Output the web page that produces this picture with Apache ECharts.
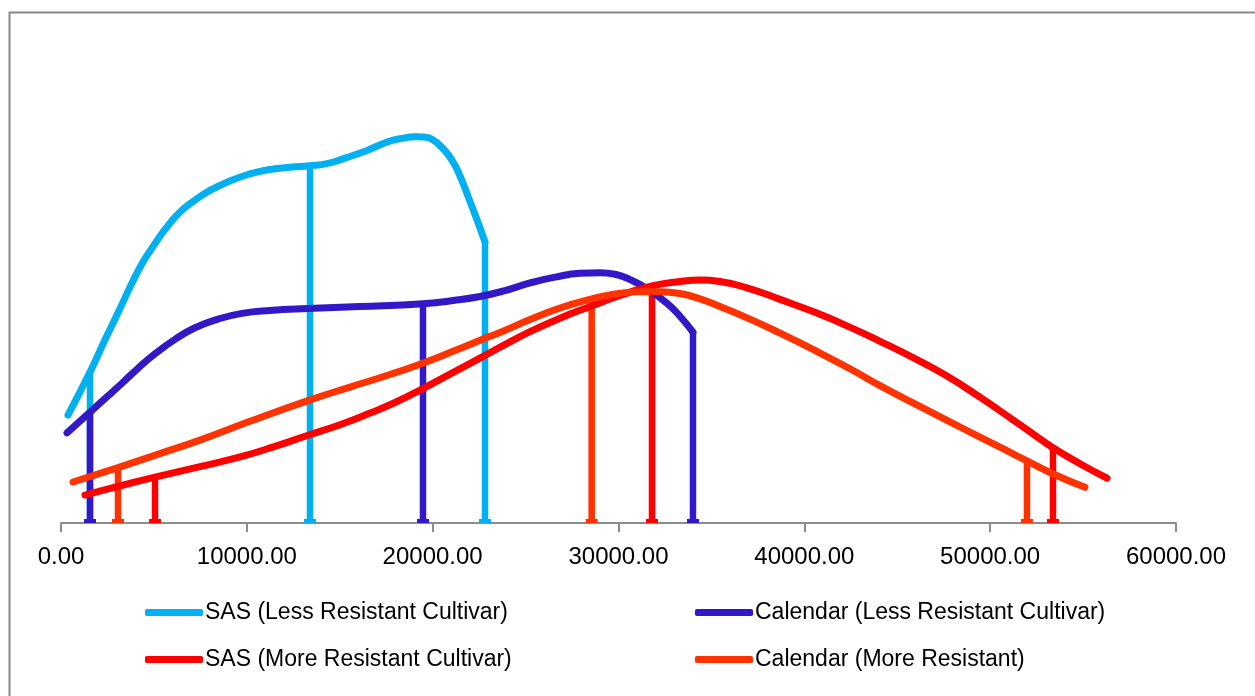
<!DOCTYPE html>
<html>
<head>
<meta charset="utf-8">
<script src="https://cdn.jsdelivr.net/npm/echarts@6/dist/echarts.min.js"></script>
<style>
html,body{margin:0;padding:0;background:#fff;}
#chart{width:1255px;height:696px;}
</style>
</head>
<body>
<div id="chart"></div>
<script>
// Series names
const seriesNames = [
  'SAS (Less Resistant Cultivar)',
  'Calendar (Less Resistant Cultivar)',
  'SAS (More Resistant Cultivar)',
  'Calendar (More Resistant)'
];
const seriesColors = ['#00B0F0', '#3318C8', '#FF0000', '#FF3300'];

// x-axis ticks
const xTicks = [0, 10000, 20000, 30000, 40000, 50000, 60000];

// Curves [x, y] (y in arbitrary density units)
const sasLess = [
  [377, 22.4], [1560, 31.3], [2368, 38.0], [3175, 44.5], [3821, 49.8], [4342, 53.7],
  [4789, 56.4], [5596, 60.9], [6403, 64.5], [7211, 67.0], [8018, 69.0], [8986, 70.8],
  [10062, 72.3], [11139, 73.3], [12322, 73.8], [13399, 74.1], [14367, 74.6], [15282, 75.7],
  [16466, 77.3], [17596, 79.1], [18349, 79.8], [19049, 80.15], [19533, 80.1], [19964, 79.6],
  [20502, 77.9], [21040, 75.3], [21470, 72.0], [21901, 67.8], [22385, 62.9], [22816, 58.3]
];
const calLess = [
  [323, 18.7], [1560, 23.0], [2421, 26.0], [3282, 29.0], [4143, 32.1], [5058, 35.1],
  [6134, 38.1], [7211, 40.5], [8448, 42.3], [9740, 43.5], [11246, 44.1], [13291, 44.5],
  [16089, 44.9], [19479, 45.5], [21201, 46.2], [22546, 47.0], [23784, 48.1], [25237, 49.8],
  [26582, 51.0], [27927, 51.8], [29003, 51.9], [29811, 51.6], [30618, 50.5], [31586, 48.5],
  [32609, 45.6], [33308, 42.9], [34008, 39.6]
];
const sasMore = [
  [1291, 5.8], [3175, 7.7], [5058, 9.5], [7480, 11.7], [9740, 13.8], [11515, 15.9],
  [13291, 18.2], [15013, 20.4], [16627, 22.8], [17973, 25.0], [19479, 27.9], [20932, 30.9],
  [22546, 34.2], [23784, 36.8], [25237, 39.7], [26851, 42.5], [28465, 44.9], [30080, 47.2],
  [31802, 49.2], [33308, 50.1], [34385, 50.4], [35461, 50.1], [36914, 48.8], [38689, 46.4],
  [40573, 43.7], [42295, 40.9], [44070, 37.7], [45954, 34.1], [47676, 30.5], [49451, 26.1],
  [51227, 21.4], [52411, 18.2], [53380, 15.6], [54833, 12.3], [56286, 9.3]
];
const calMore = [
  [646, 8.5], [3067, 11.5], [5327, 14.4], [7480, 17.2], [10170, 21.1], [13291, 25.4],
  [15551, 28.2], [17703, 30.8], [19425, 33.1], [21201, 35.8], [22546, 37.9], [23784, 39.8],
  [25237, 42.2], [26851, 44.6], [28465, 46.4], [29811, 47.5], [31156, 48.0], [32232, 48.0],
  [33308, 47.6], [34385, 46.5], [35461, 44.9], [37075, 42.3], [38689, 39.4], [40573, 35.8],
  [42456, 32.0], [44070, 28.5], [45954, 24.7], [47837, 21.0], [49451, 17.8], [50796, 15.2],
  [51980, 12.9], [53487, 10.0], [55101, 7.4]
];

// Drop lines [x, y at curve]
const sasLessDrops = [[1560, 31.3], [13399, 74.1], [22816, 58.3]];
const calLessDrops = [[1560, 23.0], [19479, 45.5], [34008, 39.6]];
const sasMoreDrops = [[5058, 9.5], [31802, 49.2], [53380, 15.6]];
const calMoreDrops = [[3067, 11.5], [28556, 46.5], [51980, 12.9]];

const curves = [sasLess, calLess, sasMore, calMore];
const drops = [sasLessDrops, calLessDrops, sasMoreDrops, calMoreDrops];

const chart = echarts.init(document.getElementById('chart'), null, {renderer: 'canvas'});

function renderDrop(params, api) {
  const x = api.value(0), y = api.value(1);
  const top = api.coord([x, y]);
  const bot = api.coord([x, 0]);
  const color = api.visual('color');
  return {
    type: 'group',
    children: [
      {type: 'line', shape: {x1: top[0], y1: top[1], x2: bot[0], y2: bot[1] - 2},
       style: {stroke: color, lineWidth: 6.5}},
      {type: 'rect', shape: {x: bot[0] - 6, y: bot[1] - 4, width: 12, height: 4},
       style: {fill: color}}
    ]
  };
}

const series = [];
drops.forEach((d, i) => {
  series.push({
    type: 'custom',
    name: seriesNames[i] + ' drops',
    renderItem: renderDrop,
    data: d,
    itemStyle: {color: seriesColors[i]},
    z: 2,
    clip: false,
    silent: true
  });
});
curves.forEach((c, i) => {
  series.push({
    type: 'line',
    name: seriesNames[i],
    data: c,
    smooth: 0.5,
    showSymbol: false,
    color: seriesColors[i],
    lineStyle: {width: 7, color: seriesColors[i], cap: 'round', join: 'round'},
    z: 3 + i,
    silent: true
  });
});

const legendPos = [
  {left: 145, top: 601},
  {left: 695, top: 601},
  {left: 145, top: 648},
  {left: 695, top: 648}
];
const legends = seriesNames.map((n, i) => ({
  data: [n],
  left: legendPos[i].left,
  top: legendPos[i].top,
  padding: 0,
  itemWidth: 58,
  itemHeight: 7,
  icon: 'roundRect',
  selectedMode: false,
  textStyle: {fontFamily: 'Liberation Sans', fontSize: 23, color: '#000', padding: [0, 0, 0, -3]}
}));

chart.setOption({
  animation: false,
  backgroundColor: '#fff',
  grid: {left: 61, right: 79, top: 41, bottom: 173, containLabel: false},
  legend: legends,
  xAxis: {
    type: 'value',
    min: xTicks[0],
    max: xTicks[xTicks.length - 1],
    interval: 10000,
    splitLine: {show: false},
    axisLine: {show: true, lineStyle: {color: '#8c8c8c', width: 2}},
    axisTick: {show: true, length: 9, lineStyle: {color: '#8c8c8c', width: 2}},
    axisLabel: {
      margin: 22,
      fontFamily: 'Liberation Sans',
      fontSize: 24,
      color: '#000',
      formatter: v => v.toFixed(2)
    }
  },
  yAxis: {
    type: 'value',
    min: 0,
    max: 100,
    show: false,
    splitLine: {show: false}
  },
  graphic: [{
    type: 'rect',
    left: 7, top: 10,
    shape: {width: 1300, height: 800},
    style: {fill: 'none', stroke: '#898989', lineWidth: 2},
    silent: true,
    z: -1
  }],
  series: series
});
</script>
</body>
</html>
